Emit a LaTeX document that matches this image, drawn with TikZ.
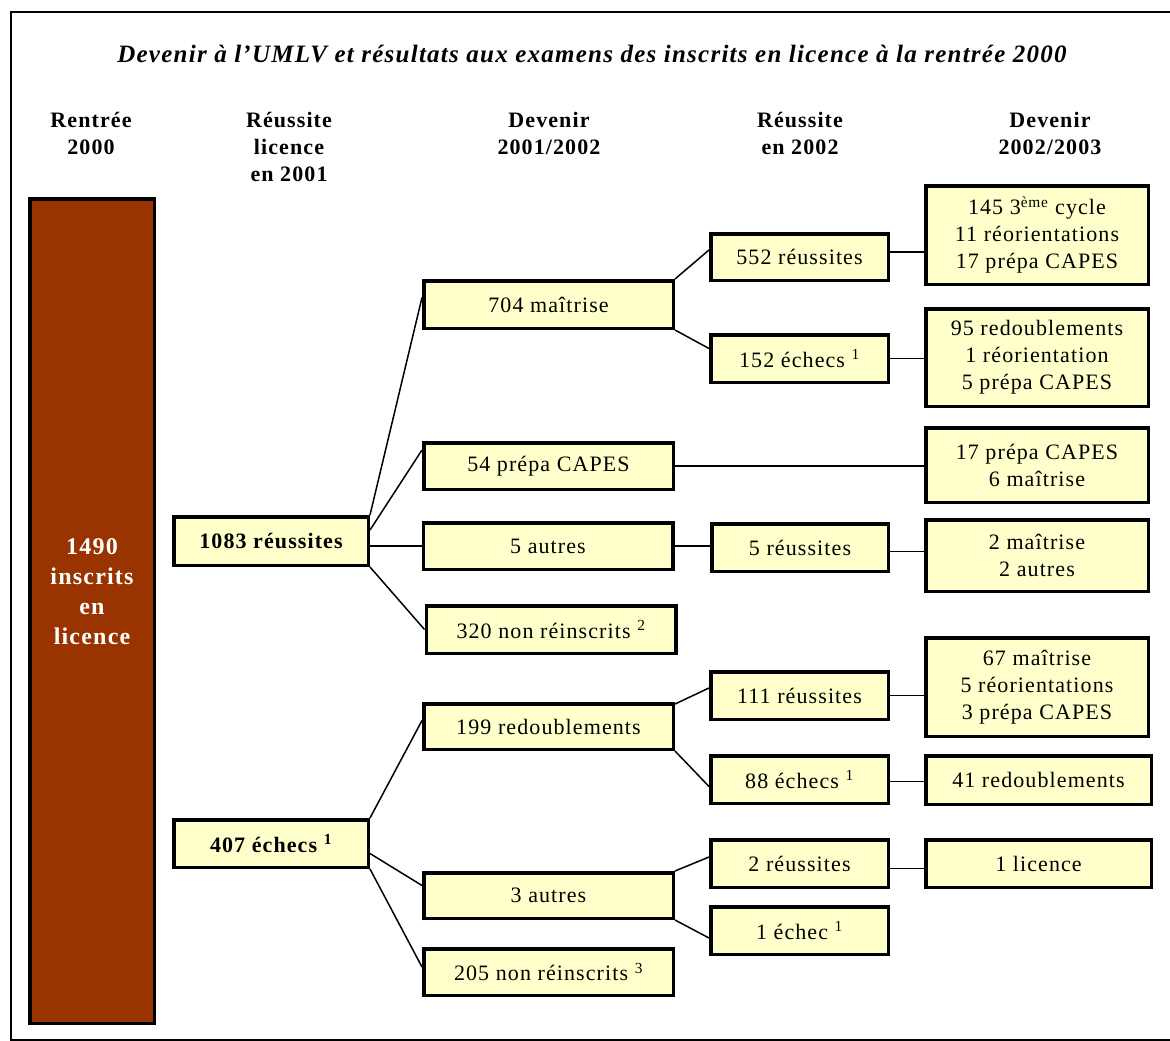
\documentclass[tikz,border=0pt]{standalone}
\usepackage{fontspec}
\setmainfont{Liberation Serif}[LetterSpace=5]
\usetikzlibrary{calc}
\definecolor{boxfill}{HTML}{FFFFCC}
\definecolor{bigbrown}{HTML}{993300}
\tikzset{
  box/.style={draw=black, line width=3.5pt, fill=boxfill, inner sep=0pt, align=center,
    font=\fontsize{22}{27}\selectfont},
  link/.style={line width=1.5pt},
  head/.style={font=\bfseries\fontsize{22}{27}\selectfont, align=center, inner sep=0pt},
}
\begin{document}
\begin{tikzpicture}[x=1pt,y=-1pt]
\useasboundingbox (0,0) rectangle (1170,1041);
\draw[line width=1.5pt] (1180,12) -- (11,12) -- (11,1040) -- (1180,1040);

\node[font=\bfseries\itshape\fontsize{25}{27}\selectfont, inner sep=0pt] (title) at (592,54)
  {Devenir à l’UMLV et résultats aux examens des inscrits en licence à la rentrée 2000};

\node[head] (h1) at (91,133.5) {Rentrée\\2000};
\node[head] (h2) at (289,147) {Réussite\\licence\\en 2001};
\node[head] (h3) at (549,133.5) {Devenir\\2001/2002};
\node[head] (h4) at (800,133.5) {Réussite\\en 2002};
\node[head] (h5) at (1050,133.5) {Devenir\\2002/2003};

% column 1
\node[box, fill=bigbrown, minimum width=124.5, minimum height=824.5] (b1490) at (92,611) {};
\node[align=center, text=white, inner sep=0pt, font=\bfseries\fontsize{24}{30}\selectfont] (t1490) at (92,591.5)
  {1490\\inscrits\\en\\licence};

% column 2
\node[box, minimum width=194.5, minimum height=48.5, font=\bfseries\fontsize{22}{27}\selectfont] (r1083) at (271,541) {1083 réussites};
\node[box, minimum width=194.5, minimum height=47.5, font=\bfseries\fontsize{22}{27}\selectfont] (e407) at (271,843.5) {407 échecs~\textsuperscript{1}};

% column 3
\node[box, minimum width=249.5, minimum height=47.5] (m704) at (548.5,304.5) {704 maîtrise};
\node[box, minimum width=249.5, minimum height=46.5] (p54) at (548.5,466) {54 prépa CAPES};
\node[box, minimum width=249.5, minimum height=46.5] (a5) at (548,546) {5 autres};
\node[box, minimum width=249.5, minimum height=47.5] (n320) at (551,629.5) {320 non réinscrits~\textsuperscript{2}};
\node[box, minimum width=249.5, minimum height=45.5] (d199) at (548.5,726.5) {199 redoublements};
\node[box, minimum width=249.5, minimum height=45.5] (a3) at (548.5,895.5) {3 autres};
\node[box, minimum width=249.5, minimum height=46.5] (n205) at (548.5,972) {205 non réinscrits~\textsuperscript{3}};

% column 4
\node[box, minimum width=177.5, minimum height=46.5] (r552) at (799.5,257) {552 réussites};
\node[box, minimum width=177.5, minimum height=47.5] (e152) at (799.5,358.5) {152 échecs~\textsuperscript{1}};
\node[box, minimum width=176.5, minimum height=47.5] (r5) at (800,547.5) {5 réussites};
\node[box, minimum width=177.5, minimum height=47.5] (r111) at (799.5,695.5) {111 réussites};
\node[box, minimum width=177.5, minimum height=47.5] (e88) at (799.5,779.5) {88 échecs~\textsuperscript{1}};
\node[box, minimum width=177.5, minimum height=47.5] (r2) at (799.5,863.5) {2 réussites};
\node[box, minimum width=177.5, minimum height=47.5] (e1) at (799.5,930.5) {1 échec~\textsuperscript{1}};

% column 5
\node[box, minimum width=222.5, minimum height=98.5] (c145) at (1037,235) {145 3\textsuperscript{ème} cycle\\11 réorientations\\17 prépa CAPES};
\node[box, minimum width=222.5, minimum height=97.5] (c95) at (1037,357.5) {95 redoublements\\1 réorientation\\5 prépa CAPES};
\node[box, minimum width=222.5, minimum height=74.5] (c17) at (1037,465) {17 prépa CAPES\\6 maîtrise};
\node[box, minimum width=222.5, minimum height=71.5] (c2) at (1037,555.5) {2 maîtrise\\2 autres};
\node[box, minimum width=222.5, minimum height=98.5] (c67) at (1037,687) {67 maîtrise\\5 réorientations\\3 prépa CAPES};
\node[box, minimum width=225.5, minimum height=48.5] (c41) at (1038.5,780) {41 redoublements};
\node[box, minimum width=225.5, minimum height=47.5] (c1) at (1038.5,863.5) {1 licence};

% connectors
\draw[link] (r1083.north east) -- ($(m704.west)+(0,-7)$);
\draw[link] ($(r1083.north east)+(0,15)$) -- ($(p54.west)+(0,-16)$);
\draw[link] (a5.west -| r1083.east) -- (a5.west);
\draw[link] (r1083.south east) -- (n320.west);
\draw[link] (e407.north east) -- ($(d199.west)+(0,-6)$);
\draw[link] ($(e407.east)+(0,10)$) -- ($(a3.west)+(0,-10)$);
\draw[link] (e407.south east) -- ($(n205.west)+(0,-5)$);

\draw[link] (m704.north east) -- ($(r552.west)+(0,-7)$);
\draw[link] (m704.south east) -- ($(e152.west)+(0,-10)$);
\draw[link] (p54.east) -- (p54.east -| c17.west);
\draw[link] (a5.east) -- (a5.east -| r5.west);
\draw[link] ($(d199.north east)+(0,2)$) -- ($(r111.west)+(0,-7.5)$);
\draw[link] (d199.south east) -- ($(e88.west)+(0,7)$);
\draw[link] (a3.north east) -- ($(r2.west)+(0,-6.5)$);
\draw[link] (a3.south east) -- ($(e1.west)+(0,7.5)$);

\draw[link] ($(r552.east)+(0,-5)$) coordinate (k1) -- (k1 -| c145.west);
\draw[link] (e152.east) -- (e152.east -| c95.west);
\draw[link] ($(r5.east)+(0,4)$) coordinate (k2) -- (k2 -| c2.west);
\draw[link] (r111.east) -- (r111.east -| c67.west);
\draw[link] ($(e88.east)+(0,2)$) coordinate (k3) -- (k3 -| c41.west);
\draw[link] ($(r2.east)+(0,5)$) coordinate (k4) -- (k4 -| c1.west);
\end{tikzpicture}
\end{document}
